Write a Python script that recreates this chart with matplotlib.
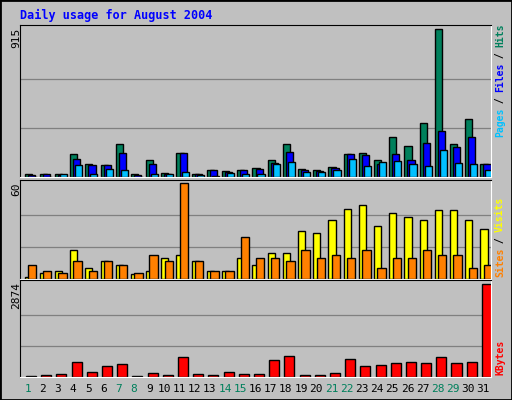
import numpy as np
import matplotlib.pyplot as plt

days = list(range(1, 32))
weekend = [1, 7, 8, 14, 15, 21, 22, 28, 29]
hits = [17, 21, 17, 145, 83, 72, 207, 17, 104, 25, 151, 21, 41, 35, 41, 54,
        108, 207, 48, 41, 60, 145, 151, 104, 246, 190, 337, 915, 207, 362, 79]
files = [14, 21, 14, 114, 77, 72, 151, 14, 83, 21, 151, 21, 41, 31, 41, 52,
         89, 157, 41, 37, 56, 145, 135, 79, 145, 108, 213, 288, 188, 246, 79]
pages = [2, 3, 17, 72, 17, 52, 41, 2, 17, 21, 33, 14, 6, 27, 21, 17,
         79, 95, 33, 33, 46, 114, 70, 95, 101, 79, 70, 170, 89, 79, 46]
visits = [1.5, 3.5, 5, 18, 7, 11, 9, 3, 5, 13, 15, 11, 5, 5, 13, 9,
          16, 16, 30, 29, 37, 44, 46, 33, 41, 39, 37, 43, 43, 37, 31]
sites = [9, 5, 3.5, 11, 5, 11, 9, 3.5, 15, 11, 60, 11, 5, 5, 26, 13,
         13, 11, 18, 13, 15, 13, 18, 7, 13, 13, 18, 15, 15, 7, 9]
kbytes = [42, 73, 105, 451, 168, 325, 388, 42, 136, 73, 608, 105, 73, 168, 105, 105,
          514, 640, 73, 73, 136, 545, 325, 357, 420, 451, 420, 608, 420, 451, 2874]

BG = '#c0c0c0'
C_HITS, C_FILES, C_PAGES = '#00805c', '#0000ff', '#00c0ff'
C_VIS, C_SITES, C_KB = '#ffff00', '#ff8000', '#ff0000'
MONO = 'DejaVu Sans Mono'

W, H = 512, 400
fig = plt.figure(figsize=(W / 100, H / 100), dpi=100, facecolor=BG)
fig.patches.append(plt.Rectangle((0, 0), 1, 1, transform=fig.transFigure,
                                 fill=False, ec='black', lw=2))

def pax(x0, y0, x1, y1):
    a = fig.add_axes([x0 / W, 1 - y1 / H, (x1 - x0) / W, (y1 - y0) / H])
    a.set_facecolor(BG)
    a.set_xlim(0.5, 31.5)
    a.set_xticks([])
    a.set_yticks([])
    for s in ['top', 'left']:
        a.spines[s].set_color('black')
    for s in ['bottom', 'right']:
        a.spines[s].set_color('white')
    return a

x = np.array(days, dtype=float)
ek = dict(edgecolor='black', linewidth=1, align='edge')
GRID = dict(color='#808080', lw=0.9, zorder=0)

# top: hits / files / pages
ax1 = pax(20, 25, 491, 177)
top = 915
ax1.set_ylim(0, top * 1.03)
for g in (top / 3, 2 * top / 3):
    ax1.axhline(g, **GRID)
ax1.bar(x - 0.2, hits, 0.47, color=C_HITS, **ek)
ax1.bar(x - 0.0, files, 0.47, color=C_FILES, **ek)
ax1.bar(x + 0.13, pages, 0.47, color=C_PAGES, **ek)

# middle: visits / sites
ax2 = pax(20, 180, 491, 279)
ax2.set_ylim(0, 60 * 1.03)
for g in (20, 40):
    ax2.axhline(g, **GRID)
ax2.bar(x - 0.2, visits, 0.47, color=C_VIS, **ek)
ax2.bar(x + 0.02, sites, 0.55, color=C_SITES, **ek)

# bottom: kbytes
ax3 = pax(20, 280, 491, 377)
ax3.set_ylim(0, 2874 * 1.04)
for g in (2874 / 3, 2 * 2874 / 3):
    ax3.axhline(g, **GRID)
ax3.bar(x - 0.1, kbytes, 0.66, color=C_KB, **ek)

fig.text(20 / W, 1 - 15 / H, 'Daily usage for August 2004', color='#0000ff',
         family=MONO, weight='bold', fontsize=8.5, va='center')

for txt, yy in (('915', 28), ('60', 182), ('2874', 282)):
    fig.text(16 / W, 1 - yy / H, txt, rotation=90, ha='center', va='top',
             family=MONO, fontsize=8)

for d in days:
    ax3.text(d, -0.07, str(d), transform=ax3.get_xaxis_transform(), ha='center', va='top',
             family=MONO, fontsize=8, color=C_HITS if d in weekend else 'black')

CH = 5.6  # px per character along the vertical side labels

def side(parts, ybot):
    y = ybot
    for t, c in parts:
        fig.text(500 / W, 1 - y / H, t, rotation=90, ha='center', va='bottom',
                 color=c, family=MONO, weight='bold', fontsize=7, rotation_mode='default')
        y -= len(t) * CH
side([('Pages', C_PAGES), (' / ', 'black'), ('Files', C_FILES), (' / ', 'black'), ('Hits', C_HITS)], 137)
side([('Sites', C_SITES), (' / ', 'black'), ('Visits', C_VIS)], 277)
side([('KBytes', C_KB)], 375)

fig.savefig('out.png', dpi=100, facecolor=BG)
